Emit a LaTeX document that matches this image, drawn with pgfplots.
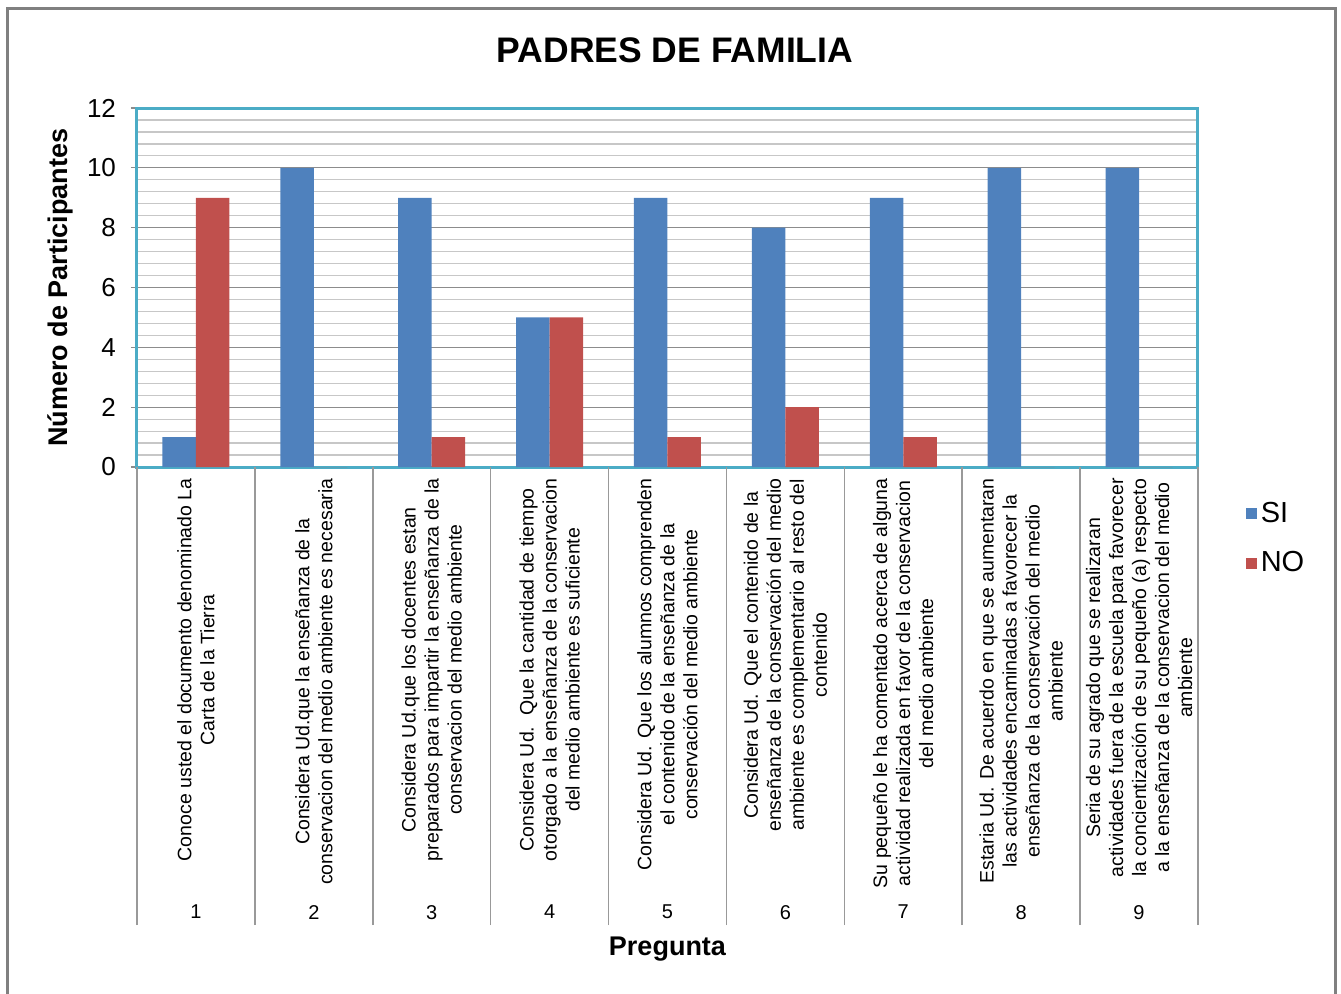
\documentclass[border=0pt]{standalone}
\usepackage{pgfplots}
\pgfplotsset{compat=1.18}
\usepackage{fontspec}
\setmainfont{Liberation Sans}
\definecolor{siblue}{HTML}{4F81BD}
\definecolor{nored}{HTML}{C0504D}
\definecolor{axteal}{HTML}{4BACC6}
\begin{document}
\begin{tikzpicture}
\path[use as bounding box] (0,0) rectangle (670.5pt,-497pt);
\draw[black!50, line width=1.5pt] (3.5pt,-4.5pt) rectangle (667.5pt,-510pt);
\begin{axis}[
  at={(68.5pt,-233.5pt)}, anchor=south west, scale only axis,
  width=530.5pt, height=179.5pt,
  xmin=0.5, xmax=9.5, ymin=0, ymax=12,
  /pgf/number format/assume math mode=true,
  ybar=0pt, bar width=16.75pt,
  ytick={0,2,...,12}, minor y tick num=4,
  ymajorgrids, yminorgrids,
  major grid style={black!45, line width=0.6pt},
  minor grid style={black!22, line width=0.6pt},
  axis line style={axteal, line width=1.5pt},
  tick align=outside, ytick pos=left, xtick pos=bottom,
  major tick length=3pt, minor tick length=0pt,
  ytick style={black!45, line width=0.6pt},
  yticklabel style={font=\fontsize{13}{15}\selectfont, xshift=-4pt},
  ylabel={Número de Participantes},
  ylabel style={at={(axis description cs:-0.0726,0.5)}, anchor=center, font=\bfseries\fontsize{13.5}{16}\selectfont},
  title={PADRES DE FAMILIA},
  title style={at={(axis description cs:0.507,1.128)}, anchor=center, font=\bfseries\fontsize{17.75}{20}\selectfont},
  xtick={1,...,9},
  xtick style={draw=none},
  xticklabels={
    {Conoce usted el documento denominado La\\Carta de la Tierra},
    {Considera Ud.que la enseñanza de la\\conservacion del medio ambiente es necesaria},
    {Considera Ud.que los docentes estan\\preparados para impartir la enseñanza de la\\conservacion del medio ambiente},
    {Considera Ud.\ \ Que la cantidad de tiempo\\otorgado a la enseñanza de la conservacion\\del medio ambiente es suficiente},
    {Considera Ud. Que los alumnos comprenden\\el contenido de la enseñanza de la\\conservación del medio ambiente},
    {Considera Ud. Que el contenido de la\\enseñanza de la conservación del medio\\ambiente es complementario al resto del\\contenido},
    {Su pequeño le ha comentado acerca de alguna\\actividad realizada en favor de la conservacion\\del medio ambiente},
    {Estaria Ud. De acuerdo en que se aumentaran\\las actividades encaminadas a favorecer la\\enseñanza de la conservación del medio\\ambiente},
    {Seria de su agrado que se realizaran\\actividades fuera de la escuela para favorecer\\la concientización de su pequeño (a) respecto\\a la enseñanza de la conservacion del medio\\ambiente}
  },
  xticklabel style={yshift=-2.5pt, rotate=90, anchor=east, align=center, inner sep=0pt, font=\fontsize{9.75}{11.5}\selectfont},
  extra x ticks={0.5,1.5,...,9.5},
  extra x tick labels={,,,,,,,,,},
  extra x tick style={major tick length=229pt, xtick style={draw=black!40, line width=0.75pt}},
  legend style={at={(rel axis cs:1.039,-0.075)}, anchor=north west, draw=none, fill=none,
    font=\fontsize{14.5}{17}\selectfont, row sep=9pt, legend cell align=left},
  legend image code/.code={\fill[#1] (0pt,-2.75pt) rectangle (5.5pt,2.75pt);},
]
\addplot[fill=siblue, draw=none] coordinates {(1,1) (2,10) (3,9) (4,5) (5,9) (6,8) (7,9) (8,10) (9,10)};
\addplot[fill=nored, draw=none] coordinates {(1,9) (2,0) (3,1) (4,5) (5,1) (6,2) (7,1) (8,0) (9,0)};
\legend{SI,NO}
\end{axis}
\begin{axis}[
  at={(68.5pt,-233.5pt)}, anchor=south west, scale only axis,
  width=530.5pt, height=179.5pt,
  xmin=0.5, xmax=9.5, ymin=0, ymax=12,
  /pgf/number format/assume math mode=true,
  axis line style={draw=none},
  ytick=\empty, xtick={1,...,9}, xtick style={draw=none},
  xticklabel style={font=\fontsize{10}{12}\selectfont, yshift=-215.5pt},
  xlabel={Pregunta},
  xlabel style={at={(axis description cs:0.5,0)}, anchor=center, yshift=-241pt, font=\bfseries\fontsize{13.5}{16}\selectfont},
]
\end{axis}
\end{tikzpicture}
\end{document}
